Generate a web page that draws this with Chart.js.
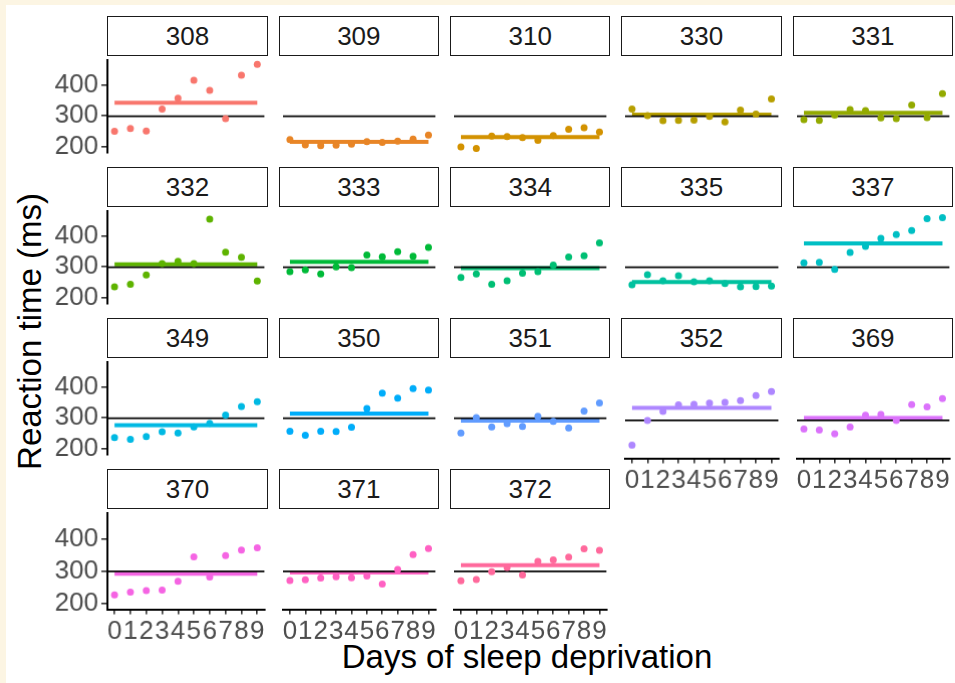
<!DOCTYPE html>
<html>
<head>
<meta charset="utf-8">
<script src="https://cdn.jsdelivr.net/npm/chart.js@4.4.0/dist/chart.umd.min.js"></script>
<style>
html, body { margin: 0; padding: 0; background: #fcf5e3; }
#plot { position: absolute; left: 6px; top: 5px; width: 949px; height: 678px; background: #fff; }
.strip { position: absolute; box-sizing: border-box; border: 1.6px solid #1a1a1a; background: #fff;
  font: 26px "Liberation Sans", Arial, sans-serif; color: #1a1a1a;
  display: flex; align-items: center; justify-content: center; }
.panel { position: absolute; }
.title { position: absolute; font: 33px "Liberation Sans", Arial, sans-serif; color: #000;
  white-space: nowrap; line-height: 33px; text-align: center; }
</style>
</head>
<body>
<div id="plot"></div>
<div class="title" style="left:127px;top:640px;width:800px;">Days of sleep deprivation</div>
<div class="title" style="left:-171px;top:315px;width:400px;transform:rotate(-90deg);">Reaction time (ms)</div>
<script>
// sleepstudy: one facet per subject
const subjects = ["308", "309", "310", "330", "331", "332", "333", "334", "335",
                  "337", "349", "350", "351", "352", "369", "370", "371", "372"];
const days = [0, 1, 2, 3, 4, 5, 6, 7, 8, 9];
const reaction = [
    [249.6, 258.7, 250.8, 321.4, 356.9, 414.7, 382.2, 290.1, 430.6, 466.4],
    [222.7, 205.3, 203.0, 204.7, 207.7, 216.0, 213.6, 217.7, 224.3, 237.3],
    [199.1, 194.3, 234.3, 232.8, 229.3, 220.5, 235.4, 255.8, 261.0, 247.5],
    [321.5, 300.4, 283.9, 285.1, 285.8, 297.6, 280.2, 318.3, 305.3, 354.0],
    [287.6, 285.0, 301.8, 320.1, 316.3, 293.3, 290.1, 334.8, 293.7, 371.6],
    [234.9, 242.8, 273.0, 309.8, 317.5, 310.0, 454.2, 346.8, 330.3, 253.9],
    [283.8, 289.6, 276.8, 299.8, 297.2, 338.2, 332.0, 348.8, 333.4, 362.0],
    [265.5, 276.2, 243.4, 254.7, 279.0, 284.2, 305.5, 331.5, 335.7, 377.3],
    [241.6, 273.9, 254.5, 270.8, 251.5, 254.6, 245.5, 235.3, 235.8, 237.2],
    [312.4, 313.8, 291.6, 346.1, 365.7, 391.8, 404.3, 416.7, 455.9, 458.9],
    [236.1, 230.3, 238.9, 254.9, 250.7, 269.8, 281.6, 308.1, 336.3, 351.6],
    [256.3, 243.5, 256.2, 255.5, 268.9, 329.7, 379.4, 362.9, 394.5, 389.1],
    [250.5, 300.1, 269.9, 280.6, 271.8, 304.6, 287.7, 266.6, 321.5, 347.6],
    [221.7, 298.2, 326.9, 346.9, 348.7, 352.8, 354.4, 360.4, 375.6, 388.5],
    [271.9, 268.4, 257.2, 277.7, 314.8, 317.2, 298.1, 348.1, 340.3, 366.5],
    [225.3, 234.5, 238.9, 240.5, 267.5, 344.2, 281.1, 347.6, 365.2, 372.2],
    [269.9, 272.4, 277.9, 281.8, 279.2, 284.5, 259.3, 304.6, 350.8, 369.5],
    [269.4, 273.5, 297.6, 310.6, 287.2, 329.6, 334.5, 343.2, 369.1, 364.1]
];
const subjectMeans = [342.1, 215.2, 231.0, 303.2, 309.4, 307.3, 316.2, 295.3, 250.1,
                      375.7, 275.8, 313.6, 290.1, 337.4, 306.0, 291.7, 295.0, 317.9];
const overallMean = 298.5;
const yTicks = [200, 300, 400];

// ggplot2 default hue palette
function hcl(h, c, l) {
    const hr = h * Math.PI / 180;
    const U = c * Math.cos(hr), V = c * Math.sin(hr);
    const Y = Math.pow((l + 16) / 116, 3);
    const u = U / (13 * l) + 0.1978398, v = V / (13 * l) + 0.4683363;
    const X = 9 * Y * u / (4 * v);
    const Z = Y * (12 - 3 * u - 20 * v) / (4 * v);
    const lin = [
        3.240479 * X - 1.537150 * Y - 0.498535 * Z,
        -0.969256 * X + 1.875992 * Y + 0.041556 * Z,
        0.055648 * X - 0.204043 * Y + 1.057311 * Z
    ];
    return "#" + lin.map(t => {
        let g = t <= 0.0031308 ? 12.92 * t : 1.055 * Math.pow(t, 1 / 2.4) - 0.055;
        g = Math.round(Math.min(1, Math.max(0, g)) * 255);
        return g.toString(16).padStart(2, "0");
    }).join("");
}
const colours = subjects.map((s, i) => hcl(15 + i * 360 / subjects.length, 100, 65));

// shared scale limits with ggplot's 5% expansion
const allValues = reaction.flat();
const yLo = Math.min(...allValues), yHi = Math.max(...allValues);
const yMin = yLo - 0.05 * (yHi - yLo), yMax = yHi + 0.05 * (yHi - yLo);
const dLo = days[0], dHi = days[days.length - 1];
const xMin = dLo - 0.05 * (dHi - dLo), xMax = dHi + 0.05 * (dHi - dLo);

const FONT = "'Liberation Sans', Arial, sans-serif";
const AXW = 100, AXH = 40;
const panelW = 160.4, panelH = 99.6;
const colLeft = c => 107.3 + c * 171.35;
const rowTop = r => 56.3 + r * 151.05;

const refLine = {
    id: "refLine",
    afterDatasetDraw(chart, args) {
        if (args.index !== 0) return;
        const { ctx, chartArea: a, scales: { y } } = chart;
        const py = y.getPixelForValue(overallMean);
        ctx.save();
        ctx.strokeStyle = "#000";
        ctx.lineWidth = 1.8;
        ctx.beginPath();
        ctx.moveTo(a.left, py);
        ctx.lineTo(a.right, py);
        ctx.stroke();
        ctx.restore();
    }
};

subjects.forEach((subj, i) => {
    const r = Math.floor(i / 5), c = i % 5;
    const hasY = c === 0;
    const hasX = i + 5 >= subjects.length;

    const strip = document.createElement("div");
    strip.className = "strip";
    strip.textContent = subj;
    strip.style.left = colLeft(c) + "px";
    strip.style.top = (rowTop(r) - 40.5) + "px";
    strip.style.width = panelW + "px";
    strip.style.height = "40.5px";
    document.body.appendChild(strip);

    const box = document.createElement("div");
    box.className = "panel";
    box.style.left = (colLeft(c) - (hasY ? AXW : 0)) + "px";
    box.style.top = rowTop(r) + "px";
    box.style.width = (panelW + (hasY ? AXW : 0)) + "px";
    box.style.height = (panelH + (hasX ? AXH : 0)) + "px";
    const canvas = document.createElement("canvas");
    box.appendChild(canvas);
    document.body.appendChild(box);

    new Chart(canvas, {
        type: "scatter",
        data: {
            datasets: [{
                type: "line",
                data: [{ x: dLo, y: subjectMeans[i] }, { x: dHi, y: subjectMeans[i] }],
                borderColor: colours[i],
                borderWidth: 4,
                borderCapStyle: "butt",
                pointRadius: 0,
                order: 2
            }, {
                data: days.map((d, k) => ({ x: d, y: reaction[i][k] })),
                backgroundColor: colours[i],
                borderWidth: 0,
                pointRadius: 3.5,
                order: 1
            }]
        },
        options: {
            responsive: true,
            maintainAspectRatio: false,
            animation: false,
            layout: { padding: 0 },
            plugins: { legend: { display: false }, tooltip: { enabled: false } },
            scales: {
                x: {
                    type: "linear",
                    min: xMin,
                    max: xMax,
                    display: hasX,
                    afterBuildTicks: s => { s.ticks = days.map(v => ({ value: v })); },
                    afterFit: s => {
                        if (hasX) s.height = AXH;
                        s.paddingLeft = 0;
                        s.paddingRight = 0;
                    },
                    ticks: { autoSkip: false, maxRotation: 0, padding: 2, color: "#4d4d4d",
                             font: { family: FONT, size: 26 } },
                    grid: { display: true, drawOnChartArea: false, drawTicks: true, tickLength: 5,
                            color: "#333", lineWidth: 1.6 },
                    border: { display: true, color: "#000", width: 2 }
                },
                y: {
                    min: yMin,
                    max: yMax,
                    display: hasY,
                    afterBuildTicks: s => { s.ticks = yTicks.map(v => ({ value: v })); },
                    afterFit: s => {
                        if (hasY) s.width = AXW;
                        s.paddingTop = 0;
                        s.paddingBottom = 0;
                    },
                    ticks: { autoSkip: false, padding: 3, color: "#4d4d4d",
                             font: { family: FONT, size: 26 } },
                    grid: { display: true, drawOnChartArea: false, drawTicks: true, tickLength: 6,
                            color: "#333", lineWidth: 1.6 },
                    border: { display: true, color: "#000", width: 2 }
                }
            }
        },
        plugins: [refLine]
    });
});
</script>
</body>
</html>
